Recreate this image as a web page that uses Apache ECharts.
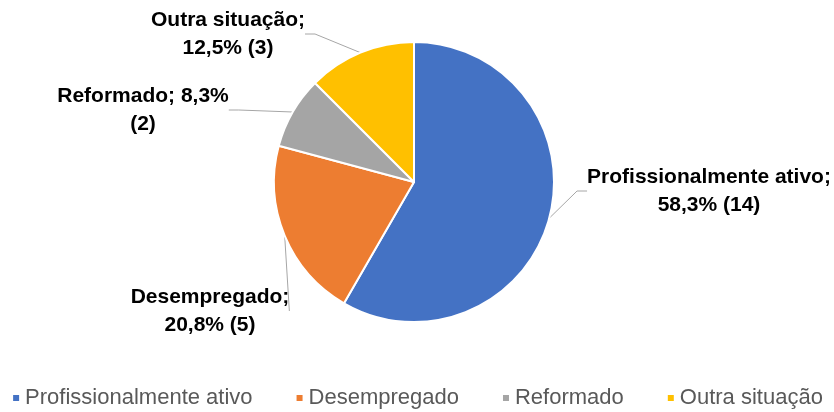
<!DOCTYPE html>
<html>
<head>
<meta charset="utf-8">
<script src="https://cdn.jsdelivr.net/npm/echarts@6/dist/echarts.min.js"></script>
<style>
  html, body { margin: 0; padding: 0; background: #fff; }
  #chart { width: 834px; height: 412px; }
</style>
</head>
<body>
<div id="chart"></div>
<script>
const categories = ['Profissionalmente ativo', 'Desempregado', 'Reformado', 'Outra situação']
const counts = [14, 5, 2, 3]
const colors = ['#4472C4', '#ED7D31', '#A5A5A5', '#FFC000']
// where each label sits (text centre)
const labelSpots = [[709, 191], [210, 311], [143, 110], [228, 34]]

const total = counts.reduce((a, b) => a + b, 0)
const pct = (v) => (v / total * 100).toFixed(1).replace('.', ',') + '%'

const chart = echarts.init(document.getElementById('chart'))
chart.setOption({
  animation: false,
  color: colors,
  legend: {
    bottom: -2,
    left: 'center',
    itemWidth: 8,
    itemHeight: 8,
    itemGap: 42,
    icon: 'rect',
    textStyle: { color: '#595959', fontSize: 22, fontFamily: 'Liberation Sans' },
    data: categories
  },
  series: [{
    type: 'pie',
    center: [414, 182],
    radius: [0, 140],
    startAngle: 90,
    clockwise: true,
    itemStyle: { borderColor: '#fff', borderWidth: 2 },
    data: categories.map((name, i) => ({ name, value: counts[i] })),
    label: {
      show: true,
      color: '#000',
      fontWeight: 'bold',
      fontSize: 21,
      lineHeight: 28,
      fontFamily: 'Liberation Sans',
      align: 'center',
      formatter: (p) => {
        if (p.dataIndex === 2) return p.name + '; ' + pct(p.value) + '\n(' + p.value + ')'
        return p.name + ';\n' + pct(p.value) + ' (' + p.value + ')'
      }
    },
    labelLine: {
      show: true,
      length: 15,
      length2: 10,
      lineStyle: { color: '#A6A6A6', width: 1 }
    },
    labelLayout: (params) => {
      const s = labelSpots[params.dataIndex]
      return { x: s[0], y: s[1], align: 'center', verticalAlign: 'middle' }
    }
  }]
})
</script>
</body>
</html>
